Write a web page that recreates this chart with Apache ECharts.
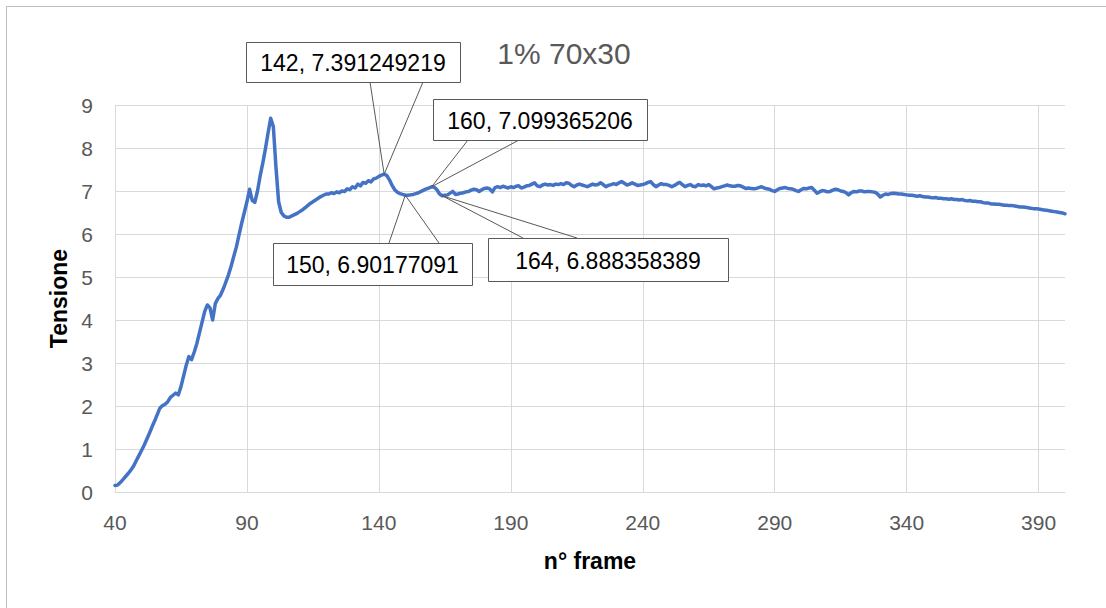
<!DOCTYPE html>
<html>
<head>
<meta charset="utf-8">
<title>1% 70x30</title>
<script src="https://cdn.jsdelivr.net/npm/echarts@6/dist/echarts.min.js"></script>
<style>
  html, body { margin: 0; padding: 0; background: #ffffff; }
  #chart { width: 1106px; height: 608px; }
</style>
</head>
<body>
<div id="chart"></div>
<script>
// ---- data -------------------------------------------------------------
const chartTitle = '1% 70x30';
const xTitle = 'n° frame';
const yTitle = 'Tensione';

// one tension sample per frame, starting at FIRST_FRAME
const FIRST_FRAME = 40;
const tension = [
  0.15, 0.16, 0.22, 0.29, 0.36, 0.43, 0.51, 0.60, 0.72, 0.84,   // 40
  0.96, 1.08, 1.22, 1.36, 1.51, 1.65, 1.80, 1.95, 2.01, 2.04,   // 50
  2.10, 2.20, 2.25, 2.30, 2.26, 2.45, 2.70, 2.95, 3.15, 3.08,   // 60
  3.25, 3.45, 3.70, 3.95, 4.20, 4.35, 4.28, 4.00, 4.38, 4.50,   // 70
  4.58, 4.72, 4.88, 5.05, 5.25, 5.48, 5.70, 5.98, 6.25, 6.50,   // 80
  6.75, 7.04, 6.78, 6.74, 7.00, 7.35, 7.65, 7.98, 8.35, 8.69,   // 90
  8.50, 7.55, 6.75, 6.50, 6.42, 6.39, 6.39, 6.42, 6.45, 6.48,   // 100
  6.52, 6.56, 6.61, 6.66, 6.71, 6.75, 6.79, 6.83, 6.87, 6.90,   // 110
  6.93, 6.93, 6.96, 6.94, 6.98, 6.96, 7.00, 6.99, 7.05, 7.03,   // 120
  7.10, 7.07, 7.16, 7.12, 7.20, 7.18, 7.24, 7.21, 7.28, 7.30,   // 130
  7.34, 7.37, 7.391249219, 7.36, 7.26, 7.13, 7.03, 6.97, 6.94, 6.92,   // 140
  6.90177091, 6.90, 6.91, 6.92, 6.94, 6.96, 6.99, 7.02, 7.05, 7.07,    // 150
  7.099365206, 7.09, 7.03, 6.93, 6.888358389, 6.90, 6.91, 6.95, 6.99, 6.92,   // 160
  6.93, 6.95, 6.96, 6.98, 6.99, 7.02, 7.04, 7.03, 6.99, 7.03,   // 170
  7.06, 7.07, 7.05, 6.98, 7.08, 7.10, 7.08, 7.11, 7.09, 7.07,   // 180
  7.10, 7.08, 7.11, 7.12, 7.07, 7.09, 7.12, 7.13, 7.16, 7.19,   // 190
  7.12, 7.10, 7.14, 7.16, 7.14, 7.15, 7.13, 7.16, 7.15, 7.17,   // 200
  7.15, 7.19, 7.18, 7.13, 7.10, 7.14, 7.16, 7.14, 7.12, 7.10,   // 210
  7.13, 7.16, 7.14, 7.15, 7.19, 7.15, 7.10, 7.13, 7.15, 7.17,   // 220
  7.15, 7.19, 7.22, 7.18, 7.14, 7.16, 7.19, 7.16, 7.13, 7.14,   // 230
  7.15, 7.17, 7.20, 7.22, 7.15, 7.10, 7.14, 7.17, 7.15, 7.15,   // 240
  7.13, 7.10, 7.13, 7.17, 7.20, 7.15, 7.10, 7.13, 7.15, 7.11,   // 250
  7.10, 7.15, 7.13, 7.14, 7.12, 7.15, 7.10, 7.05, 7.07, 7.08,   // 260
  7.10, 7.12, 7.14, 7.12, 7.11, 7.11, 7.13, 7.12, 7.09, 7.06,   // 270
  7.07, 7.06, 7.05, 7.06, 7.08, 7.10, 7.07, 7.05, 7.04, 7.01,   // 280
  6.99, 7.03, 7.06, 7.07, 7.08, 7.06, 7.05, 7.04, 7.01, 6.99,   // 290
  7.03, 7.06, 7.05, 7.07, 7.08, 7.02, 6.95, 6.98, 7.01, 7.00,   // 300
  6.98, 6.99, 7.02, 7.04, 7.03, 7.00, 6.99, 6.96, 6.91, 6.96,   // 310
  6.99, 6.98, 7.00, 7.00, 6.98, 6.99, 6.99, 6.98, 6.97, 6.93,   // 320
  6.86, 6.90, 6.93, 6.92, 6.94, 6.95, 6.94, 6.93, 6.93, 6.92,   // 330
  6.91, 6.90, 6.90, 6.89, 6.88, 6.89, 6.87, 6.86, 6.86, 6.85,   // 340
  6.84, 6.85, 6.83, 6.83, 6.82, 6.82, 6.81, 6.82, 6.80, 6.80,   // 350
  6.79, 6.80, 6.78, 6.77, 6.78, 6.76, 6.76, 6.75, 6.75, 6.73,   // 360
  6.72, 6.72, 6.70, 6.70, 6.69, 6.69, 6.68, 6.67, 6.67, 6.66,   // 370
  6.66, 6.65, 6.64, 6.63, 6.63, 6.62, 6.61, 6.60, 6.59, 6.59,   // 380
  6.58, 6.57, 6.56, 6.55, 6.54, 6.53, 6.52, 6.51, 6.50, 6.49,   // 390
  6.47                                                          // 400
];

// axis ranges and tick steps
const xRange = [40, 400];
const xStep = 50;
const yRange = [0, 9];
const yStep = 1;

// frames that carry a value callout
const calloutFrames = [142, 150, 160, 164];

// ---- callout layout (box rectangle and the two wedge foot x positions) ----
const calloutLayout = {
  142: { box: [246, 42, 214, 40], feet: [370, 423] },
  150: { box: [273, 243, 199, 42], feet: [389, 439] },
  160: { box: [433, 99, 214, 41], feet: [468, 519] },
  164: { box: [488, 238, 240, 43], feet: [523, 577] }
};

// ---- chart ------------------------------------------------------------
const seriesData = tension.map((v, i) => [FIRST_FRAME + i, v]);

const FONT = '"Liberation Sans", Arial, sans-serif';
const chart = echarts.init(document.getElementById('chart'), null, { renderer: 'svg' });

chart.setOption({
  animation: false,
  backgroundColor: '#ffffff',
  title: {
    text: chartTitle,
    left: 559, top: 33,
    textAlign: 'center',
    textStyle: { fontFamily: FONT, fontSize: 30, fontWeight: 'normal', color: '#595959' }
  },
  grid: {
    left: 115, right: 41, top: 105, bottom: 116,
    containLabel: false, outerBoundsMode: 'none'
  },
  xAxis: {
    type: 'value',
    min: xRange[0], max: xRange[1], interval: xStep,
    name: xTitle, nameLocation: 'middle', nameGap: 57,
    nameTextStyle: { fontFamily: FONT, fontSize: 23, fontWeight: 'bold', color: '#000000' },
    axisLine: { show: true, lineStyle: { color: '#d9d9d9', width: 1 } },
    axisTick: { show: false },
    axisLabel: {
      margin: 20, showMaxLabel: false,
      fontFamily: FONT, fontSize: 21, color: '#595959'
    },
    splitLine: { show: true, showMaxLine: false, lineStyle: { color: '#d9d9d9', width: 1 } }
  },
  yAxis: {
    type: 'value',
    min: yRange[0], max: yRange[1], interval: yStep,
    name: yTitle, nameLocation: 'middle', nameGap: 45, nameRotate: 90,
    nameTextStyle: { fontFamily: FONT, fontSize: 23, fontWeight: 'bold', color: '#000000' },
    axisLine: { show: false },
    axisTick: { show: false },
    axisLabel: { margin: 22, fontFamily: FONT, fontSize: 21, color: '#595959' },
    splitLine: { show: true, lineStyle: { color: '#d9d9d9', width: 1 } }
  },
  series: [{
    type: 'line',
    data: seriesData,
    showSymbol: false,
    symbol: 'none',
    smooth: false,
    lineStyle: { color: '#4472C4', width: 3.5, join: 'round', cap: 'round' },
    emphasis: { disabled: true }
  }]
});

// callout boxes with wedge leaders, anchored on the data points
function drawCallouts() {
  const elements = [];
  // chart area frame
  elements.push({
    type: 'rect', silent: true, z: 0,
    shape: { x: 6.5, y: 6.5, width: 1200, height: 800 },
    style: { fill: 'none', stroke: '#bfbfbf', lineWidth: 1 }
  });
  calloutFrames.forEach(frame => {
    const value = tension[frame - FIRST_FRAME];
    const p = chart.convertToPixel({ gridIndex: 0 }, [frame, value]);
    const lay = calloutLayout[frame];
    const [bx, by, bw, bh] = lay.box;
    const footY = by > p[1] ? by : by + bh;
    elements.push({
      type: 'polyline', silent: true, z: 10,
      shape: { points: [[lay.feet[0], footY], p, [lay.feet[1], footY]] },
      style: { fill: 'none', stroke: '#595959', lineWidth: 1 }
    });
    elements.push({
      type: 'rect', silent: true, z: 11,
      shape: { x: bx + 0.5, y: by + 0.5, width: bw, height: bh },
      style: { fill: '#ffffff', stroke: '#595959', lineWidth: 1 }
    });
    elements.push({
      type: 'text', silent: true, z: 12,
      x: bx + bw / 2, y: by + bh / 2 + 1,
      style: {
        text: frame + ', ' + value,
        font: '23px ' + FONT,
        fill: '#000000',
        align: 'center',
        verticalAlign: 'middle'
      }
    });
  });
  chart.setOption({ graphic: elements });
}
drawCallouts();
</script>
</body>
</html>
